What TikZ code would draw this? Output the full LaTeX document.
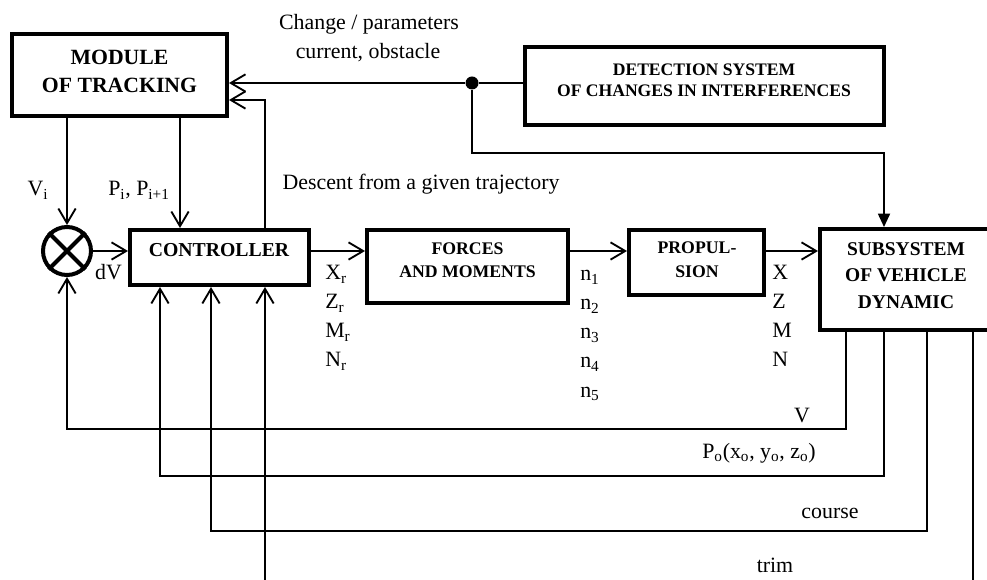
\documentclass[tikz,border=0pt]{standalone}
\usepackage{fontspec}
\setmainfont{Liberation Serif}
\usetikzlibrary{arrows.meta}

\newcommand\lblfont{\fontsize{16.4}{20}\selectfont}

\begin{document}
\begin{tikzpicture}[x=0.75pt,y=-0.75pt,
  box/.style 2 args={draw, line width=3pt, inner sep=0pt,
    minimum width=#1*0.75pt, minimum height=#2*0.75pt},
  ttl/.style={align=center, inner sep=0pt},
  lbl/.style={inner sep=0pt, font=\lblfont},
  conn/.style={line width=1.3pt},
  arr/.style={conn, -{Straight Barb[length=11pt,width=13pt,line width=1.4pt]}},
  farr/.style={conn, -{Triangle[length=10pt,width=9pt]}}
]
\useasboundingbox (0,0) rectangle (987,580);
\clip (0,0) rectangle (987,580);

% ---- blocks ----
\node[box={215}{82}] (mod) at (119.5,75) {};
\node[ttl, font=\bfseries\fontsize{16.3}{21}\selectfont] (mod-t) at (119.5,71) {MODULE\\OF TRACKING};

\node[box={359}{78}] (det) at (704.5,86) {};
\node[ttl, font=\bfseries\fontsize{13.2}{16}\selectfont] (det-t) at (704,80) {DETECTION SYSTEM\\OF CHANGES IN INTERFERENCES};

\node[box={179}{55}] (ctrl) at (219.5,257.5) {};
\node[ttl, font=\bfseries\fontsize{14.8}{18}\selectfont] (ctrl-t) at (219,250) {CONTROLLER};

\node[box={201}{73}] (forces) at (467.5,266.5) {};
\node[ttl, font=\bfseries\fontsize{13.3}{17}\selectfont] (forces-t) at (467.5,260.5) {FORCES\\AND MOMENTS};

\node[box={135}{65}] (prop) at (696.5,262.5) {};
\node[ttl, font=\bfseries\fontsize{13.3}{18}\selectfont] (prop-t) at (697,260) {PROPUL-\\SION};

\node[box={172}{101}] (sub) at (906,279.5) {};
\node[ttl, font=\bfseries\fontsize{14.6}{20}\selectfont] (sub-t) at (906,275.5) {SUBSYSTEM\\OF VEHICLE\\DYNAMIC};

% summing junction
\node[circle, draw, line width=3pt, inner sep=0pt, minimum size=48*0.75pt] (sum) at (67,251) {};
\draw[line width=3pt] (sum.north west) -- (sum.south east)
                      (sum.north east) -- (sum.south west);

% branching point
\node[circle, fill, inner sep=0pt, minimum size=13*0.75pt] (dot) at (472,83) {};

% ---- helper coordinates ----
\coordinate (sig) at (0,251);
\coordinate (kP) at (180,0);
\coordinate (kD) at (265,0);
\coordinate (kPo) at (160,0);
\coordinate (kC) at (211,0);
\coordinate (oV) at (846,0);
\coordinate (oP) at (884,0);
\coordinate (oC) at (927,0);
\coordinate (oT) at (973,0);
\coordinate (yV) at (0,429);
\coordinate (yP) at (0,476);
\coordinate (yC) at (0,531);
\coordinate (yT) at (0,610);
\coordinate (yDesc) at (0,100);
\coordinate (yDet) at (0,153);

% ---- connectors ----
\draw[arr] (det.west |- dot) -- (dot) -- (mod.east |- dot);
\draw[farr] (dot) |- (yDet -| oP) -- (sub.north -| oP);
\draw[arr] (ctrl.north -| kD) |- (mod.east |- yDesc);

\draw[arr] (mod.south -| sum) -- (sum.north);
\draw[arr] (mod.south -| kP) -- (ctrl.north -| kP);

\draw[arr] (sum.east) -- (ctrl.west |- sum.east);
\draw[arr] (ctrl.east |- sig) -- (forces.west |- sig);
\draw[arr] (forces.east |- sig) -- (prop.west |- sig);
\draw[arr] (prop.east |- sig) -- (sub.west |- sig);

\draw[arr] (sub.south -| oV) |- (yV -| sum) -- (sum.south);
\draw[arr] (sub.south -| oP) |- (yP -| kPo) -- (ctrl.south -| kPo);
\draw[arr] (sub.south -| oC) |- (yC -| kC) -- (ctrl.south -| kC);
\draw[arr] (sub.south -| oT) |- (yT -| kD) -- (ctrl.south -| kD);

% ---- labels ----
\node[lbl, anchor=base] (chg1) at (369,30) {Change / parameters};
\node[lbl, anchor=base] (chg2) at (368,59) {current, obstacle};
\node[lbl, anchor=base] (desc) at (421,190) {Descent from a given trajectory};
\node[lbl, anchor=base] (vi) at (38,196) {V\textsubscript{i}};
\node[lbl, anchor=base] (pi) at (139,196) {P\textsubscript{i}, P\textsubscript{i+1}};
\node[lbl, anchor=base] (dv) at (108.5,280) {dV};

\node[lbl, anchor=base west] (xr) at (325,280) {X\textsubscript{r}};
\node[lbl, anchor=base west] (zr) at (325,309) {Z\textsubscript{r}};
\node[lbl, anchor=base west] (mr) at (325,338) {M\textsubscript{r}};
\node[lbl, anchor=base west] (nr) at (325,367) {N\textsubscript{r}};

\node[lbl, anchor=base west] (n1) at (580,281) {n\textsubscript{1}};
\node[lbl, anchor=base west] (n2) at (580,310) {n\textsubscript{2}};
\node[lbl, anchor=base west] (n3) at (580,339) {n\textsubscript{3}};
\node[lbl, anchor=base west] (n4) at (580,368) {n\textsubscript{4}};
\node[lbl, anchor=base west] (n5) at (580,397) {n\textsubscript{5}};

\node[lbl, anchor=base west] (fx) at (772,280) {X};
\node[lbl, anchor=base west] (fz) at (772,309) {Z};
\node[lbl, anchor=base west] (fm) at (772,338) {M};
\node[lbl, anchor=base west] (fn) at (772,367) {N};

\node[lbl, anchor=base] (lv) at (802,422) {V};
\node[lbl, anchor=base] (lpo) at (759,458) {P\textsubscript{o}(x\textsubscript{o}, y\textsubscript{o}, z\textsubscript{o})};
\node[lbl, anchor=base] (lcourse) at (830,518) {course};
\node[lbl, anchor=base] (ltrim) at (775,572) {trim};
\end{tikzpicture}
\end{document}
